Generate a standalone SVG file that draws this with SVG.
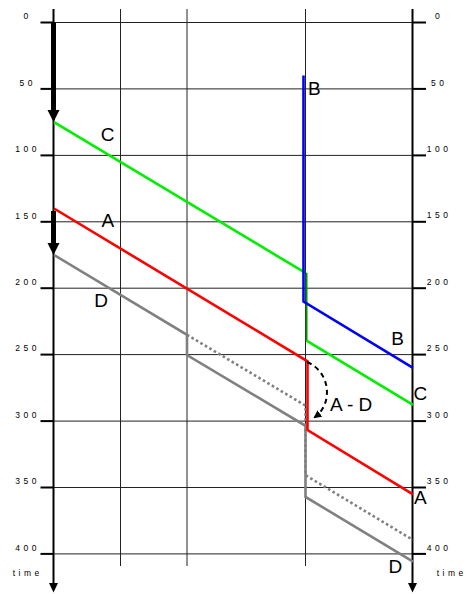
<svg xmlns="http://www.w3.org/2000/svg" width="469" height="594" viewBox="0 0 469 594">
<style>
.grid{stroke:#222;stroke-width:1;fill:none}
.tick{stroke:#000;stroke-width:2}
.axis{stroke:#000;stroke-width:2;fill:none}
.num{font-family:"Liberation Sans",Arial,sans-serif;font-size:8.5px;letter-spacing:3.5px;text-anchor:middle;fill:#000}
.lbl{font-family:"Liberation Sans",Arial,sans-serif;font-size:19px;fill:#000}
.ln{fill:none;stroke-width:2.6;stroke-linejoin:miter}
</style>
<defs>
<marker id="ah" markerWidth="8" markerHeight="8" refX="6" refY="4" orient="auto" markerUnits="userSpaceOnUse">
<path d="M0,0 L8,4 L0,8 Z" fill="#000"/>
</marker>
</defs>
<rect width="469" height="594" fill="#fff"/>
<g id="grid">
<line class="grid" x1="120.5" y1="9" x2="120.5" y2="566"/>
<line class="grid" x1="187" y1="9" x2="187" y2="566"/>
<line class="grid" x1="305.5" y1="9" x2="305.5" y2="566"/>
<line class="grid" x1="53" y1="22.5" x2="413" y2="22.5"/>
<line class="grid" x1="53" y1="88.9" x2="413" y2="88.9"/>
<line class="grid" x1="53" y1="155.4" x2="413" y2="155.4"/>
<line class="grid" x1="53" y1="221.8" x2="413" y2="221.8"/>
<line class="grid" x1="53" y1="288.2" x2="413" y2="288.2"/>
<line class="grid" x1="53" y1="354.6" x2="413" y2="354.6"/>
<line class="grid" x1="53" y1="421.1" x2="413" y2="421.1"/>
<line class="grid" x1="53" y1="487.5" x2="413" y2="487.5"/>
<line class="grid" x1="53" y1="553.9" x2="413" y2="553.9"/>
</g>
<g id="left-axis">
<line class="axis" x1="53.5" y1="9" x2="53.5" y2="585"/>
<polygon points="49,583 58,583 53.5,592.5" fill="#000"/>
<g class="tick">
<line x1="40.5" y1="22.5" x2="53.5" y2="22.5"/>
<line x1="40.5" y1="88.9" x2="53.5" y2="88.9"/>
<line x1="40.5" y1="155.4" x2="53.5" y2="155.4"/>
<line x1="40.5" y1="221.8" x2="53.5" y2="221.8"/>
<line x1="40.5" y1="288.2" x2="53.5" y2="288.2"/>
<line x1="40.5" y1="354.6" x2="53.5" y2="354.6"/>
<line x1="40.5" y1="421.1" x2="53.5" y2="421.1"/>
<line x1="40.5" y1="487.5" x2="53.5" y2="487.5"/>
<line x1="40.5" y1="553.9" x2="53.5" y2="553.9"/>
</g>
<text class="num" x="27.7" y="19.3">0</text>
<text class="num" x="27.7" y="85.7">50</text>
<text class="num" x="27.7" y="152.2">100</text>
<text class="num" x="27.7" y="218.6">150</text>
<text class="num" x="27.7" y="285">200</text>
<text class="num" x="27.7" y="351.4">250</text>
<text class="num" x="27.7" y="417.9">300</text>
<text class="num" x="27.7" y="484.3">350</text>
<text class="num" x="27.7" y="550.7">400</text>
<text class="num" x="27.7" y="576">time</text>
</g>
<g id="right-axis">
<line class="axis" x1="412.5" y1="9" x2="412.5" y2="585"/>
<polygon points="408,583 417,583 412.5,592.5" fill="#000"/>
<g class="tick">
<line x1="412.5" y1="22.5" x2="426" y2="22.5"/>
<line x1="412.5" y1="88.9" x2="426" y2="88.9"/>
<line x1="412.5" y1="155.4" x2="426" y2="155.4"/>
<line x1="412.5" y1="221.8" x2="426" y2="221.8"/>
<line x1="412.5" y1="288.2" x2="426" y2="288.2"/>
<line x1="412.5" y1="354.6" x2="426" y2="354.6"/>
<line x1="412.5" y1="421.1" x2="426" y2="421.1"/>
<line x1="412.5" y1="487.5" x2="426" y2="487.5"/>
<line x1="412.5" y1="553.9" x2="426" y2="553.9"/>
</g>
<text class="num" x="439.2" y="19.3">0</text>
<text class="num" x="439.2" y="85.7">50</text>
<text class="num" x="439.2" y="151.5">100</text>
<text class="num" x="439.2" y="218">150</text>
<text class="num" x="439.2" y="284.5">200</text>
<text class="num" x="439.2" y="351">250</text>
<text class="num" x="439.2" y="417.5">300</text>
<text class="num" x="439.2" y="484">350</text>
<text class="num" x="439.2" y="550.5">400</text>
<text class="num" x="451.7" y="576">time</text>
</g>
<g id="connectors">
<g id="wait-arrows">
<line x1="53.5" y1="22.5" x2="53.5" y2="111" stroke="#000" stroke-width="5"/>
<polygon points="47.5,110 59.5,110 53.5,122" fill="#000"/>
<line x1="53.5" y1="211" x2="53.5" y2="244" stroke="#000" stroke-width="5"/>
<polygon points="47.5,243 59.5,243 53.5,255" fill="#000"/>
</g>
<g id="line-D">
<polyline class="ln" stroke="#808080" points="54,255 187,334.8 187,355 305.5,425.8 305.5,496.9 413,561.7"/>
<polyline class="ln" stroke="#808080" stroke-dasharray="2.6 2.6" points="187,334.8 305.5,405.6 305.5,475.2 413,540"/>
</g>
<g id="line-C">
<polyline class="ln" stroke="#00ee00" points="54,122.1 305,272.7"/>
<line x1="306.5" y1="272.7" x2="306.5" y2="340.7" stroke="#009000" stroke-width="2"/>
<polyline class="ln" stroke="#00ee00" points="306.5,340.7 413,404.9"/>
</g>
<g id="line-A">
<polyline class="ln" stroke="#ff0000" points="54,208.5 307.5,361.3 307.5,430 413,494.3"/>
</g>
<g id="line-B">
<polyline class="ln" stroke="#0000ff" stroke-width="3" points="303.5,75.6 303.5,301.5 413,367.9"/>
</g>
<g id="A-D">
<path d="M307,362 C331,372 333,404 315,417" fill="none" stroke="#000" stroke-width="2" stroke-dasharray="5 4" marker-end="url(#ah)"/>
</g>
</g>
<g id="labels">
<text class="lbl" x="100.8" y="140.7">C</text>
<text class="lbl" x="101.5" y="226.7">A</text>
<text class="lbl" x="94.3" y="306.7">D</text>
<text class="lbl" x="307.9" y="95">B</text>
<text class="lbl" x="391.3" y="345">B</text>
<text class="lbl" x="413.5" y="400">C</text>
<text class="lbl" x="414" y="504">A</text>
<text class="lbl" x="388.6" y="573.3">D</text>
<text class="lbl" x="330" y="410.7">A - D</text>
</g>
</svg>
